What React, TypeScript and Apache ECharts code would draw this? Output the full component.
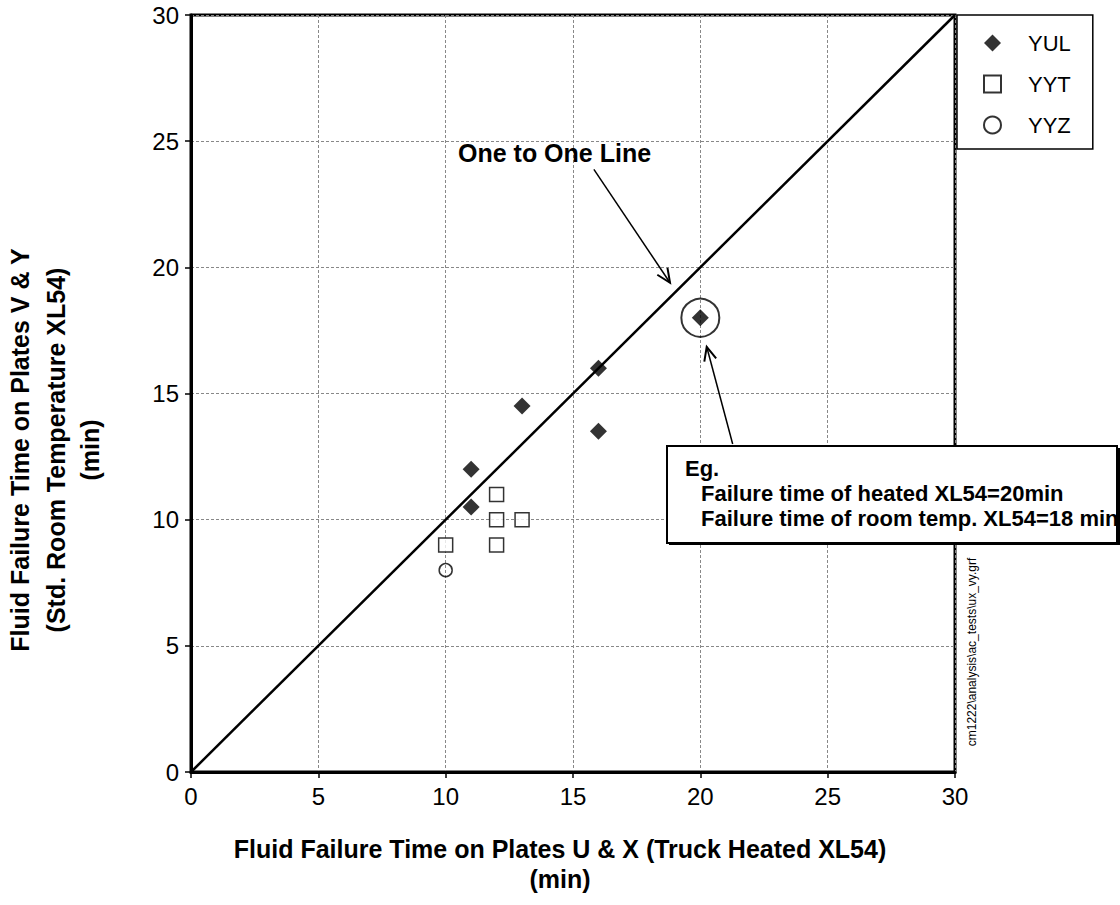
import React, { useEffect, useRef } from "react";
import * as echarts from "echarts";

// ---- data ----
const axisTicks = [0, 5, 10, 15, 20, 25, 30];
const yulX = [11, 11, 13, 16, 16, 20];
const yulY = [12, 10.5, 14.5, 16, 13.5, 18];
const yytX = [10, 12, 12, 12, 13];
const yytY = [9, 11, 10, 9, 10];
const yyzX = [10];
const yyzY = [8];
const oneToOneX = [0, 30];
const oneToOneY = [0, 30];
const highlightX = [20];
const highlightY = [18];
// annotation arrows: [fromX, fromY, toX, toY] in data units
const arrowFromX = [15.82, 21.27];
const arrowFromY = [23.88, 13.0];
const arrowToX = [18.81, 20.25];
const arrowToY = [19.39, 16.85];

const legendNames = ["YUL", "YYT", "YYZ"];
const xTitle = ["Fluid Failure Time on Plates U & X (Truck Heated XL54)", "(min)"];
const yTitle = ["Fluid Failure Time on Plates V & Y", "(Std. Room Temperature XL54)", "(min)"];
const lineLabel = "One to One Line";
const noteLines = ["Eg.", "Failure time of heated XL54=20min", "Failure time of room temp. XL54=18 min"];
const fileLabel = "cm1222\\analysis\\ac_tests\\ux_vy.grf";

const FONT = "'Liberation Sans', Arial, Helvetica, sans-serif";

const zip = (xs: number[], ys: number[]) => xs.map((x, i) => [x, ys[i]]);

export default function App() {
  const ref = useRef<HTMLDivElement>(null);

  useEffect(() => {
    if (!ref.current) return;
    const chart = echarts.init(ref.current, null, { renderer: "svg" });

    const axisCommon = {
      type: "value" as const,
      min: axisTicks[0],
      max: axisTicks[axisTicks.length - 1],
      interval: 5,
      axisLine: { show: true, lineStyle: { color: "#000", width: 3 } },
      axisTick: { show: true, inside: false, length: 6, lineStyle: { color: "#000", width: 1.5 } },
      axisLabel: { color: "#000", fontSize: 24, fontFamily: FONT },
      splitLine: { show: true, lineStyle: { color: "#888", width: 1, type: [3, 2] as any } },
    };

    const option: any = {
      animation: false,
      backgroundColor: "#fff",
      grid: {
        left: 191,
        top: 15,
        width: 764,
        height: 757,
        show: true,
        borderColor: "#000",
        borderWidth: 3,
        backgroundColor: "transparent",
      },
      xAxis: { ...axisCommon, axisLabel: { ...axisCommon.axisLabel, margin: 12 } },
      yAxis: { ...axisCommon, axisLabel: { ...axisCommon.axisLabel, margin: 12 } },
      legend: {
        data: legendNames,
        orient: "vertical",
        left: 957,
        top: 15,
        width: 129,
        padding: [17, 22, 13, 26],
        itemGap: 19,
        itemWidth: 17,
        itemHeight: 17,
        backgroundColor: "#fff",
        borderColor: "#000",
        borderWidth: 1.5,
        borderRadius: 0,
        textStyle: {
          color: "#000",
          fontSize: 22,
          fontFamily: FONT,
          lineHeight: 22,
          padding: [0, 0, 0, 22],
        },
      },
      series: [
        {
          name: "One to One",
          type: "line",
          data: zip(oneToOneX, oneToOneY),
          symbol: "none",
          lineStyle: { color: "#000", width: 2.5 },
          z: 2,
          silent: true,
        },
        {
          name: "highlight",
          type: "scatter",
          data: zip(highlightX, highlightY),
          symbol: "circle",
          symbolSize: 38,
          itemStyle: { color: "rgba(0,0,0,0)", borderColor: "#000", borderWidth: 2 },
          z: 3,
          silent: true,
        },
        {
          name: "arrows",
          type: "custom",
          data: arrowFromX.map((x, i) => [x, arrowFromY[i], arrowToX[i], arrowToY[i]]),
          clip: false,
          z: 5,
          silent: true,
          renderItem: (params: any, api: any) => {
            const p1 = api.coord([api.value(0), api.value(1)]);
            const p2 = api.coord([api.value(2), api.value(3)]);
            const ang = Math.atan2(p2[1] - p1[1], p2[0] - p1[0]);
            const L = 15;
            const a = 0.42;
            const h1 = [p2[0] - L * Math.cos(ang - a), p2[1] - L * Math.sin(ang - a)];
            const h2 = [p2[0] - L * Math.cos(ang + a), p2[1] - L * Math.sin(ang + a)];
            return {
              type: "group",
              children: [
                {
                  type: "line",
                  shape: { x1: p1[0], y1: p1[1], x2: p2[0], y2: p2[1] },
                  style: { stroke: "#000", lineWidth: 1.5 },
                },
                {
                  type: "polyline",
                  shape: { points: [h1, p2, h2] },
                  style: { stroke: "#000", lineWidth: 2, fill: "none" },
                },
              ],
            };
          },
        },
        {
          name: "YUL",
          type: "scatter",
          data: zip(yulX, yulY),
          symbol: "diamond",
          symbolSize: 17,
          itemStyle: { color: "#000" },
          z: 4,
        },
        {
          name: "YYT",
          type: "scatter",
          data: zip(yytX, yytY),
          symbol: "rect",
          symbolSize: 14,
          itemStyle: { color: "#fff", borderColor: "#000", borderWidth: 1.5 },
          z: 4,
        },
        {
          name: "YYZ",
          type: "scatter",
          data: zip(yyzX, yyzY),
          symbol: "circle",
          symbolSize: 13,
          itemStyle: { color: "rgba(255,255,255,0)", borderColor: "#000", borderWidth: 1.5 },
          z: 4,
        },
      ],
      graphic: [
        {
          type: "text",
          left: 458,
          top: 140,
          style: { text: lineLabel, fill: "#000", font: `bold 25px ${FONT}` },
          z: 10,
        },
        {
          type: "rect",
          shape: { x: 669, y: 448, width: 451, height: 97 },
          style: { fill: "#000" },
          z: 9,
        },
        {
          type: "rect",
          shape: { x: 667, y: 446, width: 450, height: 97 },
          style: { fill: "#fff", stroke: "#000", lineWidth: 2 },
          z: 10,
        },
        {
          type: "text",
          x: 685,
          y: 468,
          style: { text: noteLines[0], fill: "#000", font: `bold 22px ${FONT}`, verticalAlign: "middle" },
          z: 11,
        },
        {
          type: "text",
          x: 701,
          y: 493,
          style: { text: noteLines[1], fill: "#000", font: `bold 22px ${FONT}`, verticalAlign: "middle" },
          z: 11,
        },
        {
          type: "text",
          x: 701,
          y: 518,
          style: { text: noteLines[2], fill: "#000", font: `bold 22px ${FONT}`, verticalAlign: "middle" },
          z: 11,
        },
        {
          type: "text",
          x: 972,
          y: 652,
          rotation: Math.PI / 2,
          style: {
            text: fileLabel,
            fill: "#000",
            font: `12px 'Liberation Sans Narrow', ${FONT}`,
            align: "center",
            verticalAlign: "middle",
          },
          z: 10,
        },
        {
          type: "text",
          x: 560,
          y: 849,
          style: { text: xTitle[0], fill: "#000", font: `bold 25px ${FONT}`, align: "center", verticalAlign: "middle" },
        },
        {
          type: "text",
          x: 560,
          y: 879,
          style: { text: xTitle[1], fill: "#000", font: `bold 25px ${FONT}`, align: "center", verticalAlign: "middle" },
        },
        ...yTitle.map((t, i) => ({
          type: "text",
          x: [20, 56, 90][i],
          y: 450,
          rotation: Math.PI / 2,
          style: { text: t, fill: "#000", font: `bold 25px ${FONT}`, align: "center", verticalAlign: "middle" },
        })),
      ],
    };

    chart.setOption(option);
    return () => chart.dispose();
  }, []);

  return (
    <div
      ref={ref}
      style={{ position: "fixed", left: 0, top: 0, width: 1120, height: 905, background: "#fff" }}
    />
  );
}
